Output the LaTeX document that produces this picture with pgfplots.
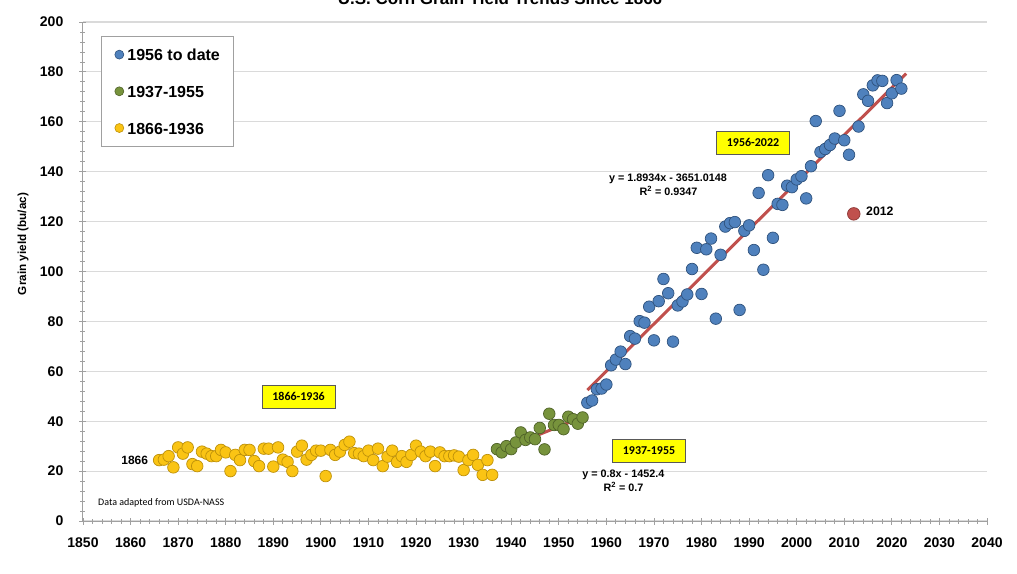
\documentclass[border=0pt]{standalone}
\usepackage{fontspec}
\setmainfont{Liberation Sans}
\newfontfamily\calibri{Carlito}
\usepackage{pgfplots}
\pgfplotsset{compat=1.18}
\definecolor{bluef}{RGB}{79,129,189}
\definecolor{bluee}{RGB}{47,82,125}
\definecolor{greenf}{RGB}{119,147,60}
\definecolor{greene}{RGB}{79,98,40}
\definecolor{yelf}{RGB}{250,196,20}
\definecolor{yele}{RGB}{190,145,10}
\definecolor{redf}{RGB}{192,80,77}
\definecolor{rede}{RGB}{140,56,54}
\definecolor{trend}{RGB}{192,80,77}
\definecolor{gridc}{RGB}{218,218,218}
\definecolor{axisc}{RGB}{160,160,160}
\definecolor{boxy}{RGB}{255,255,0}
\begin{document}
\begin{tikzpicture}
\useasboundingbox (-83pt,-52pt) rectangle (934pt,521pt);
\begin{axis}[
  at={(0pt,0pt)}, anchor=south west,
  scale only axis, width=904pt, height=499pt,
  xmin=1850, xmax=2040, ymin=0, ymax=200,
  axis lines*=left,
  axis line style={axisc, line width=1pt},
  xtick={1850,1860,...,2040}, ytick={0,20,...,200},
  minor x tick num=4, minor y tick num=4,
  tick align=center, major tick length=7pt, minor tick length=5pt,
  tick style={axisc, line width=0.8pt},
  ymajorgrids, major grid style={gridc, line width=1.2pt},
  /pgf/number format/assume math mode=true,
  /pgf/number format/1000 sep={},
  xticklabel style={font=\fontsize{14}{14}\selectfont\bfseries, inner sep=0pt, anchor=north, yshift=-13pt},
  yticklabel style={font=\fontsize{14}{14}\selectfont\bfseries, inner sep=0pt, anchor=east, xshift=-16pt},
  clip=false,
  legend style={at={(axis description cs:0.0196,0.9725)}, anchor=north west,
    draw=axisc, line width=1.2pt, fill=white,
    font=\fontsize{16}{16}\selectfont\bfseries,
    inner xsep=13.5pt, inner ysep=12.3pt, row sep=24.7pt, column sep=3.6pt,
    nodes={inner sep=0pt, text height=12pt, text depth=0pt}},
  legend cell align=left,
]
\addlegendimage{legend image code/.code={\draw[mark=*, mark size=4.5pt, mark options={fill=bluef, draw=bluee, line width=0.6pt}] plot coordinates {(0pt,0pt)};}}
\addlegendentry{1956 to date}
\addlegendimage{legend image code/.code={\draw[mark=*, mark size=4.5pt, mark options={fill=greenf, draw=greene, line width=0.6pt}] plot coordinates {(0pt,0pt)};}}
\addlegendentry{1937-1955}
\addlegendimage{legend image code/.code={\draw[mark=*, mark size=4.5pt, mark options={fill=yelf, draw=yele, line width=0.6pt}] plot coordinates {(0pt,0pt)};}}
\addlegendentry{1866-1936}

\addplot[only marks, mark=*, mark size=5.8pt, mark options={fill=yelf, draw=yele, line width=0.7pt}, forget plot] table {
x y
1866 24.4
1867 24.6
1868 26.0
1869 21.5
1870 29.5
1871 27.0
1872 29.5
1873 22.8
1874 22.0
1875 27.8
1876 27.0
1877 26.0
1878 26.0
1879 28.5
1880 27.5
1881 20.0
1882 26.5
1883 24.4
1884 28.5
1885 28.5
1886 24.0
1887 22.0
1888 29.0
1889 29.0
1890 21.8
1891 29.5
1892 24.6
1893 23.7
1894 20.0
1895 27.8
1896 30.2
1897 24.6
1898 26.5
1899 28.2
1900 28.2
1901 18.0
1902 28.5
1903 26.5
1904 27.8
1905 30.5
1906 31.8
1907 27.2
1908 27.0
1909 26.0
1910 28.2
1911 24.4
1912 29.0
1913 22.0
1914 25.8
1915 28.2
1916 23.7
1917 26.0
1918 23.7
1919 26.5
1920 30.2
1921 27.8
1922 26.0
1923 27.8
1924 22.0
1925 27.5
1926 26.0
1927 26.0
1928 26.3
1929 25.8
1930 20.4
1931 24.4
1932 26.5
1933 22.5
1934 18.5
1935 24.4
1936 18.5
};
\addplot[only marks, mark=*, mark size=5.8pt, mark options={fill=greenf, draw=greene, line width=0.7pt}, forget plot] table {
x y
1937 28.8
1938 27.5
1939 30.0
1940 28.8
1941 31.5
1942 35.5
1943 32.5
1944 33.5
1945 32.8
1946 37.3
1947 28.7
1948 43.0
1949 38.5
1950 38.5
1951 36.8
1952 41.8
1953 40.8
1954 39.0
1955 41.5
};
\addplot[only marks, mark=*, mark size=5.8pt, mark options={fill=bluef, draw=bluee, line width=0.7pt}, forget plot] table {
x y
1956 47.4
1957 48.3
1958 52.8
1959 53.1
1960 54.7
1961 62.4
1962 64.7
1963 67.9
1964 62.9
1965 74.1
1966 73.1
1967 80.1
1968 79.5
1969 85.9
1970 72.4
1971 88.1
1972 97.0
1973 91.3
1974 71.9
1975 86.4
1976 88.0
1977 90.8
1978 101.0
1979 109.5
1980 91.0
1981 108.9
1982 113.2
1983 81.1
1984 106.7
1985 118.0
1986 119.4
1987 119.8
1988 84.6
1989 116.3
1990 118.5
1991 108.6
1992 131.5
1993 100.7
1994 138.6
1995 113.5
1996 127.1
1997 126.7
1998 134.4
1999 133.8
2000 136.9
2001 138.2
2002 129.3
2003 142.2
2004 160.3
2005 147.9
2006 149.1
2007 150.7
2008 153.3
2009 164.4
2010 152.6
2011 146.8
2013 158.1
2014 171.0
2015 168.4
2016 174.6
2017 176.6
2018 176.4
2019 167.5
2020 171.4
2021 176.7
2022 173.3
};
\addplot[only marks, mark=*, mark size=6.3pt, mark options={fill=redf, draw=rede, line width=0.7pt}, forget plot] coordinates {(2012,123.1)};
\addplot[trend, line width=3pt, no marks, forget plot] coordinates {(1937,27.8) (1955.5,42.1)};
\addplot[trend, line width=3pt, no marks, forget plot] coordinates {(1956,52.48) (2023,179.33)};
\end{axis}
% annotations (pt offsets from axis lower-left)
\node[font=\fontsize{17}{17}\selectfont\bfseries, anchor=base, inner sep=0pt] at (417pt,516.5pt) {U.S. Corn Grain Yield Trends Since 1866};
\node[font=\fontsize{11.7}{11.7}\selectfont\bfseries, rotate=90, inner sep=0pt] at (-60pt,277pt) {Grain yield (bu/ac)};
\node[font=\fontsize{12}{12}\selectfont\bfseries, anchor=mid east, inner sep=0pt] at (65.3pt,59.3pt) {1866};
\node[font=\fontsize{12.3}{12.3}\selectfont\bfseries, anchor=mid west, inner sep=0pt] at (783pt,307.7pt) {2012};
\node[font=\calibri\fontsize{10}{10}\selectfont, anchor=mid west, inner sep=0pt] at (15pt,18.3pt) {Data adapted from USDA-NASS};
\tikzset{ybox/.style={draw=gray!70!black, line width=0.6pt, fill=boxy, minimum width=73pt, minimum height=23pt, inner sep=0pt, font=\calibri\bfseries\fontsize{12}{12}\selectfont}}
\node[ybox] at (215.5pt,124.3pt) {1866-1936};
\node[ybox] at (566pt,70.5pt) {1937-1955};
\node[ybox] at (670pt,378.5pt) {1956-2022};
\node[font=\fontsize{10.8}{10.8}\selectfont\bfseries, inner sep=0pt] at (585pt,342pt) {y = 1.8934x - 3651.0148};
\node[font=\fontsize{10.8}{10.8}\selectfont\bfseries, inner sep=0pt] at (585.5pt,330.3pt) {R\textsuperscript{2} = 0.9347};
\node[font=\fontsize{10.8}{10.8}\selectfont\bfseries, inner sep=0pt] at (540.4pt,46pt) {y = 0.8x - 1452.4};
\node[font=\fontsize{10.8}{10.8}\selectfont\bfseries, inner sep=0pt] at (540.5pt,34.3pt) {R\textsuperscript{2} = 0.7};
\end{tikzpicture}
\end{document}
